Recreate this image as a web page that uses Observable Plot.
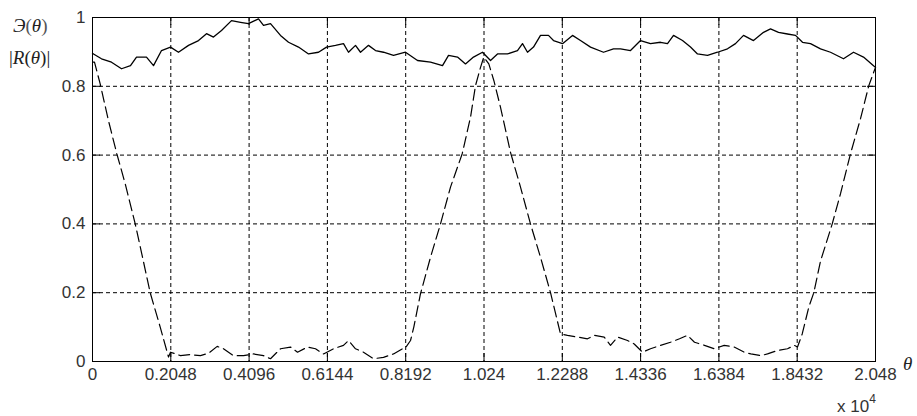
<!DOCTYPE html>
<html>
<head>
<meta charset="utf-8">
<script src="https://cdn.jsdelivr.net/npm/d3@7"></script>
<script src="https://cdn.jsdelivr.net/npm/@observablehq/plot@0.6"></script>
<style>
  html, body { margin: 0; padding: 0; background: #fff; }
  #chart { width: 917px; height: 416px; }
  #chart svg g[aria-label$="tick label"] text { font-size: 17px; font-family: 'Liberation Sans', Arial, sans-serif; }
</style>
</head>
<body>
<div id="chart"></div>
<script>
// θ sample positions (units of 1, axis shown ×10^4) and values
const solidTheta = [0, 26, 235, 497, 759, 994, 1151, 1412, 1596, 1805, 2040, 2249, 2511, 2773, 2982, 3165, 3374, 3636, 3871, 4080, 4342, 4473, 4656, 4917, 5127, 5388, 5650, 5911, 6121, 6356, 6565, 6696, 6879, 7010, 7219, 7402, 7611, 7873, 8187, 8501, 8841, 9155, 9312, 9547, 9756, 9965, 10201, 10410, 10593, 10855, 11116, 11247, 11378, 11535, 11718, 11927, 12058, 12293, 12555, 12764, 13026, 13366, 13627, 13810, 14072, 14334, 14595, 14857, 15040, 15197, 15432, 15641, 15824, 16086, 16348, 16609, 16818, 17028, 17289, 17551, 17734, 17943, 18178, 18388, 18571, 18780, 19042, 19303, 19643, 19905, 20166, 20428, 20480];
const solidValue = [0.895, 0.894, 0.880, 0.870, 0.851, 0.860, 0.885, 0.885, 0.860, 0.904, 0.914, 0.899, 0.919, 0.933, 0.953, 0.943, 0.962, 0.991, 0.986, 0.982, 0.996, 0.977, 0.982, 0.948, 0.928, 0.914, 0.894, 0.899, 0.914, 0.919, 0.924, 0.899, 0.919, 0.899, 0.919, 0.904, 0.899, 0.890, 0.899, 0.875, 0.870, 0.860, 0.890, 0.885, 0.865, 0.885, 0.899, 0.875, 0.894, 0.894, 0.904, 0.924, 0.899, 0.914, 0.948, 0.948, 0.933, 0.924, 0.948, 0.933, 0.914, 0.899, 0.909, 0.909, 0.904, 0.933, 0.924, 0.928, 0.924, 0.948, 0.933, 0.914, 0.894, 0.890, 0.899, 0.909, 0.924, 0.948, 0.933, 0.957, 0.967, 0.957, 0.952, 0.948, 0.928, 0.924, 0.909, 0.899, 0.880, 0.899, 0.885, 0.860, 0.855];

const dashTheta = [0, 52, 201, 418, 636, 855, 1117, 1289, 1509, 1771, 1988, 2040, 2302, 2563, 2825, 3034, 3262, 3426, 3688, 3950, 4211, 4473, 4656, 4917, 5179, 5362, 5624, 5833, 6042, 6304, 6565, 6696, 6879, 7088, 7350, 7611, 7873, 8108, 8187, 8318, 8404, 8579, 8841, 9102, 9364, 9670, 9887, 10018, 10149, 10235, 10366, 10497, 10672, 10933, 11195, 11456, 11718, 11980, 12241, 12424, 12686, 12947, 13123, 13384, 13549, 13732, 13994, 14169, 14386, 14595, 14857, 15118, 15354, 15563, 15746, 16007, 16261, 16523, 16784, 17046, 17219, 17480, 17655, 17917, 18178, 18353, 18440, 18563, 18735, 18866, 19042, 19348, 19565, 19826, 20088, 20305, 20480];
const dashValue = [0.870, 0.870, 0.807, 0.700, 0.604, 0.517, 0.400, 0.313, 0.200, 0.100, 0.013, 0.027, 0.017, 0.020, 0.017, 0.024, 0.044, 0.037, 0.017, 0.017, 0.022, 0.017, 0.008, 0.037, 0.042, 0.027, 0.042, 0.037, 0.022, 0.037, 0.047, 0.061, 0.037, 0.027, 0.008, 0.012, 0.022, 0.037, 0.040, 0.061, 0.100, 0.197, 0.303, 0.400, 0.507, 0.604, 0.710, 0.802, 0.855, 0.885, 0.865, 0.817, 0.739, 0.608, 0.507, 0.400, 0.303, 0.200, 0.080, 0.076, 0.071, 0.066, 0.076, 0.071, 0.047, 0.071, 0.061, 0.051, 0.027, 0.037, 0.047, 0.056, 0.066, 0.076, 0.056, 0.047, 0.037, 0.047, 0.042, 0.027, 0.022, 0.017, 0.022, 0.032, 0.037, 0.047, 0.042, 0.080, 0.158, 0.200, 0.292, 0.400, 0.488, 0.604, 0.706, 0.802, 0.855];

const xTicks = [0, 2048, 4096, 6144, 8192, 10240, 12288, 14336, 16384, 18432, 20480];
const yTicks = [0, 0.2, 0.4, 0.6, 0.8, 1];

const solid = solidTheta.map((t, i) => ({theta: t, v: solidValue[i]}));
const dashed = dashTheta.map((t, i) => ({theta: t, v: dashValue[i]}));

const W = 917, H = 416;
const mL = 92, mR = 42, mT = 17, mB = 55;
const fw = W - mL - mR, fh = H - mT - mB;
const tickLen = 8;
const labelFont = "'Liberation Sans', Arial, sans-serif";

const svg = Plot.plot({
  width: W,
  height: H,
  marginLeft: mL,
  marginRight: mR,
  marginTop: mT,
  marginBottom: mB,
  style: {background: "#fff", fontFamily: labelFont, fontSize: "17px", color: "#222", overflow: "visible"},
  x: {domain: [0, 20480]},
  y: {domain: [0, 1]},
  marks: [
    Plot.gridX(xTicks, {stroke: "#000", strokeOpacity: 1, strokeDasharray: "4,3"}),
    Plot.gridY(yTicks, {stroke: "#000", strokeOpacity: 1, strokeDasharray: "4,3"}),
    Plot.tickX(xTicks, {x: d => d, stroke: "#000", insetTop: fh - tickLen}),
    Plot.tickX(xTicks, {x: d => d, stroke: "#000", insetBottom: fh - tickLen}),
    Plot.tickY(yTicks, {y: d => d, stroke: "#000", insetRight: fw - tickLen}),
    Plot.tickY(yTicks, {y: d => d, stroke: "#000", insetLeft: fw - tickLen}),
    Plot.axisX({ticks: xTicks, tickSize: 0, tickPadding: 6, fontSize: 17, tickFormat: d => String(d / 1e4), label: null, fill: "#333"}),
    Plot.axisY({ticks: yTicks, tickSize: 0, tickPadding: 7, fontSize: 17, tickFormat: d => String(+d.toFixed(1)), label: null, fill: "#333"}),
    Plot.line(dashed, {x: "theta", y: "v", stroke: "#000", strokeWidth: 1.2, strokeDasharray: "11,5"}),
    Plot.line(solid, {x: "theta", y: "v", stroke: "#000", strokeWidth: 1.3}),
    Plot.frame({stroke: "#000"})
  ]
});

const s = d3.select(svg);
s.selectAll('g[aria-label$="tick label"]').attr("font-size", 17);
const serif = "'Liberation Serif', 'Times New Roman', serif";
// y-axis titles
const t1 = s.append("text").attr("x", 13).attr("y", 32).attr("text-anchor", "start").attr("font-family", serif).attr("font-size", 19).attr("fill", "#222");
t1.append("tspan").attr("font-style", "italic").text("Э");
t1.append("tspan").attr("fill", "#555").text("(");
t1.append("tspan").attr("font-style", "italic").text("θ");
t1.append("tspan").attr("fill", "#555").text(")");
const t2 = s.append("text").attr("x", 9).attr("y", 64).attr("text-anchor", "start").attr("font-family", serif).attr("font-size", 19).attr("fill", "#222");
t2.append("tspan").text("|");
t2.append("tspan").attr("font-style", "italic").text("R");
t2.append("tspan").text("(");
t2.append("tspan").attr("font-style", "italic").text("θ");
t2.append("tspan").text(")|");
// x-axis label
s.append("text").attr("x", 903).attr("y", 370).attr("text-anchor", "start").attr("font-family", serif).attr("font-style", "italic").attr("font-size", 19).attr("fill", "#222").text("θ");
const t3 = s.append("text").attr("x", 837).attr("y", 412).attr("text-anchor", "start").attr("font-family", labelFont).attr("font-size", 17).attr("fill", "#333");
t3.append("tspan").text("x 10");
t3.append("tspan").attr("font-size", 12).attr("dy", -9).text("4");

document.getElementById("chart").appendChild(svg);
</script>
</body>
</html>
